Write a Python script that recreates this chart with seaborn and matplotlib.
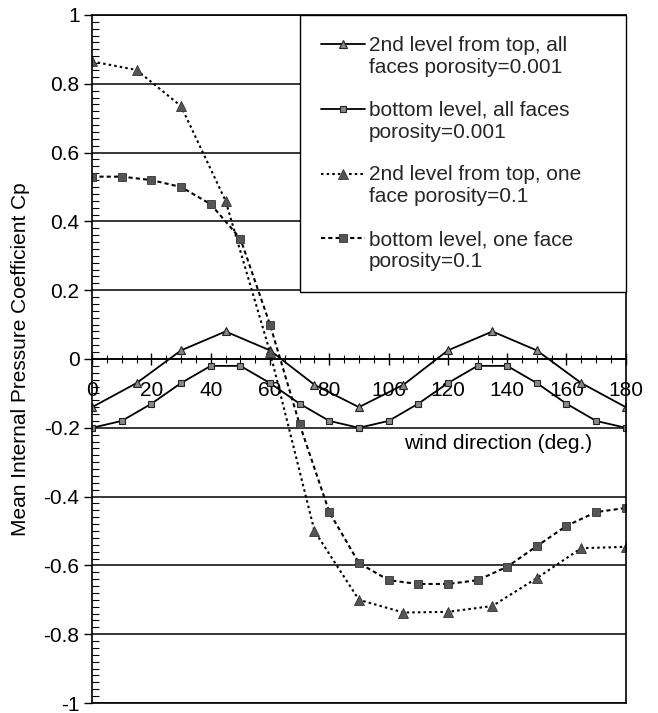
import matplotlib
matplotlib.use("Agg")
import matplotlib.pyplot as plt
import seaborn as sns
from matplotlib.ticker import MultipleLocator, FuncFormatter
from matplotlib.legend_handler import HandlerLine2D

# wind direction for each series (deg.)
dir_15 = [0, 15, 30, 45, 60, 75, 90, 105, 120, 135, 150, 165, 180]
dir_10 = [0, 10, 20, 30, 40, 50, 60, 70, 80, 90, 100, 110, 120, 130, 140, 150, 160, 170, 180]

# 2nd level from top, all faces porosity=0.001
cp_top_all = [-0.14, -0.07, 0.025, 0.08, 0.025, -0.075, -0.14, -0.075, 0.025, 0.08, 0.025, -0.07, -0.14]
# bottom level, all faces porosity=0.001
cp_bot_all = [-0.20, -0.18, -0.13, -0.07, -0.02, -0.02, -0.07, -0.13, -0.18, -0.20,
              -0.18, -0.13, -0.07, -0.02, -0.02, -0.07, -0.13, -0.18, -0.20]
# 2nd level from top, one face porosity=0.1
cp_top_one = [0.865, 0.84, 0.735, 0.46, 0.02, -0.50, -0.70, -0.737, -0.735, -0.718, -0.637, -0.55, -0.546]
# bottom level, one face porosity=0.1
cp_bot_one = [0.53, 0.53, 0.52, 0.50, 0.45, 0.35, 0.10, -0.19, -0.445, -0.593,
              -0.643, -0.654, -0.654, -0.643, -0.604, -0.544, -0.485, -0.445, -0.433]

labels = ["2nd level from top, all\nfaces porosity=0.001",
          "bottom level, all faces\nporosity=0.001",
          "2nd level from top, one\nface porosity=0.1",
          "bottom level, one face\nporosity=0.1"]


class TopLineHandler(HandlerLine2D):
    # put the legend sample next to the first line of a two-line label
    def create_artists(self, legend, orig_handle, xdescent, ydescent, width, height, fontsize, trans):
        arts = super().create_artists(legend, orig_handle, xdescent, ydescent, width, height, fontsize, trans)
        for a in arts:
            a.set_ydata([y + 0.6 * fontsize for y in a.get_ydata()])
        return arts


sns.set_theme(style="white")
plt.rcParams['font.family'] = ['Liberation Sans', 'DejaVu Sans']
plt.rcParams['axes.unicode_minus'] = False

fig = plt.figure(figsize=(6.58, 7.13), dpi=100)
ax = fig.add_axes([0.14, 0.014, 0.811, 0.965])

sns.lineplot(x=dir_15, y=cp_top_all, ax=ax, color='black', lw=1.3, marker='^', ms=5.5,
             mfc='#888888', mec='#222222', mew=0.8, label=labels[0])
sns.lineplot(x=dir_10, y=cp_bot_all, ax=ax, color='black', lw=1.3, marker='s', ms=5,
             mfc='#888888', mec='#222222', mew=0.8, label=labels[1])
sns.lineplot(x=dir_15, y=cp_top_one, ax=ax, color='black', lw=1.5, ls=(0, (1.2, 1.5)), marker='^', ms=6.5,
             mfc='#555555', mec='#333333', mew=0.6, label=labels[2])
sns.lineplot(x=dir_10, y=cp_bot_one, ax=ax, color='black', lw=1.5, ls=(0, (2, 1.5)), marker='s', ms=6,
             mfc='#555555', mec='#333333', mew=0.6, label=labels[3])

ax.set_xlim(0, 180)
ax.set_ylim(-1, 1)

# horizontal grid lines every 0.2
ax.yaxis.set_major_locator(MultipleLocator(0.2))
ax.yaxis.set_minor_locator(MultipleLocator(0.02))
ax.yaxis.set_major_formatter(FuncFormatter(lambda v, p: f"{round(v, 2) + 0.0:g}"))
ax.grid(axis='y', which='major', color='black', lw=1.1)
ax.grid(axis='x', visible=False)
for yy in [-1, 1]:
    ax.axhline(yy, color='black', lw=1.2, clip_on=False)

ax.xaxis.set_major_locator(MultipleLocator(20))
ax.xaxis.set_minor_locator(MultipleLocator(5))

for s in ['left', 'right', 'bottom']:
    ax.spines[s].set_color('black')
    ax.spines[s].set_linewidth(1.2)
ax.spines['top'].set_visible(False)
ax.spines['bottom'].set_position(('data', 0))

ax.tick_params(axis='x', which='major', direction='inout', length=9, width=1, colors='black',
               labelsize=15, pad=11, bottom=True)
ax.tick_params(axis='x', which='minor', direction='inout', length=6, width=0.8, colors='black', bottom=True)
ax.tick_params(axis='y', which='major', direction='out', length=6, width=1, colors='black',
               labelsize=15, pad=3, left=True)
ax.tick_params(axis='y', which='minor', direction='in', length=5, width=0.8, colors='black', left=True)

ax.set_ylabel("Mean Internal Pressure Coefficient Cp", fontsize=15, color='black', labelpad=10)
ax.text(137, -0.245, "wind direction (deg.)", fontsize=15, ha='center', va='center', color='black')

handles, labs = ax.get_legend_handles_labels()
leg = ax.legend(handles, labs, loc='upper right', bbox_to_anchor=(0.39, 0.6, 0.61, 0.4), mode='expand',
                fontsize=15, frameon=True, fancybox=False, framealpha=1,
                edgecolor='black', handlelength=2.1, handletextpad=0.2, labelspacing=1.14,
                borderaxespad=0, borderpad=1.0,
                handler_map={h: TopLineHandler() for h in handles})
leg.get_frame().set_linewidth(1.0)

fig.savefig("out.png", dpi=100)
